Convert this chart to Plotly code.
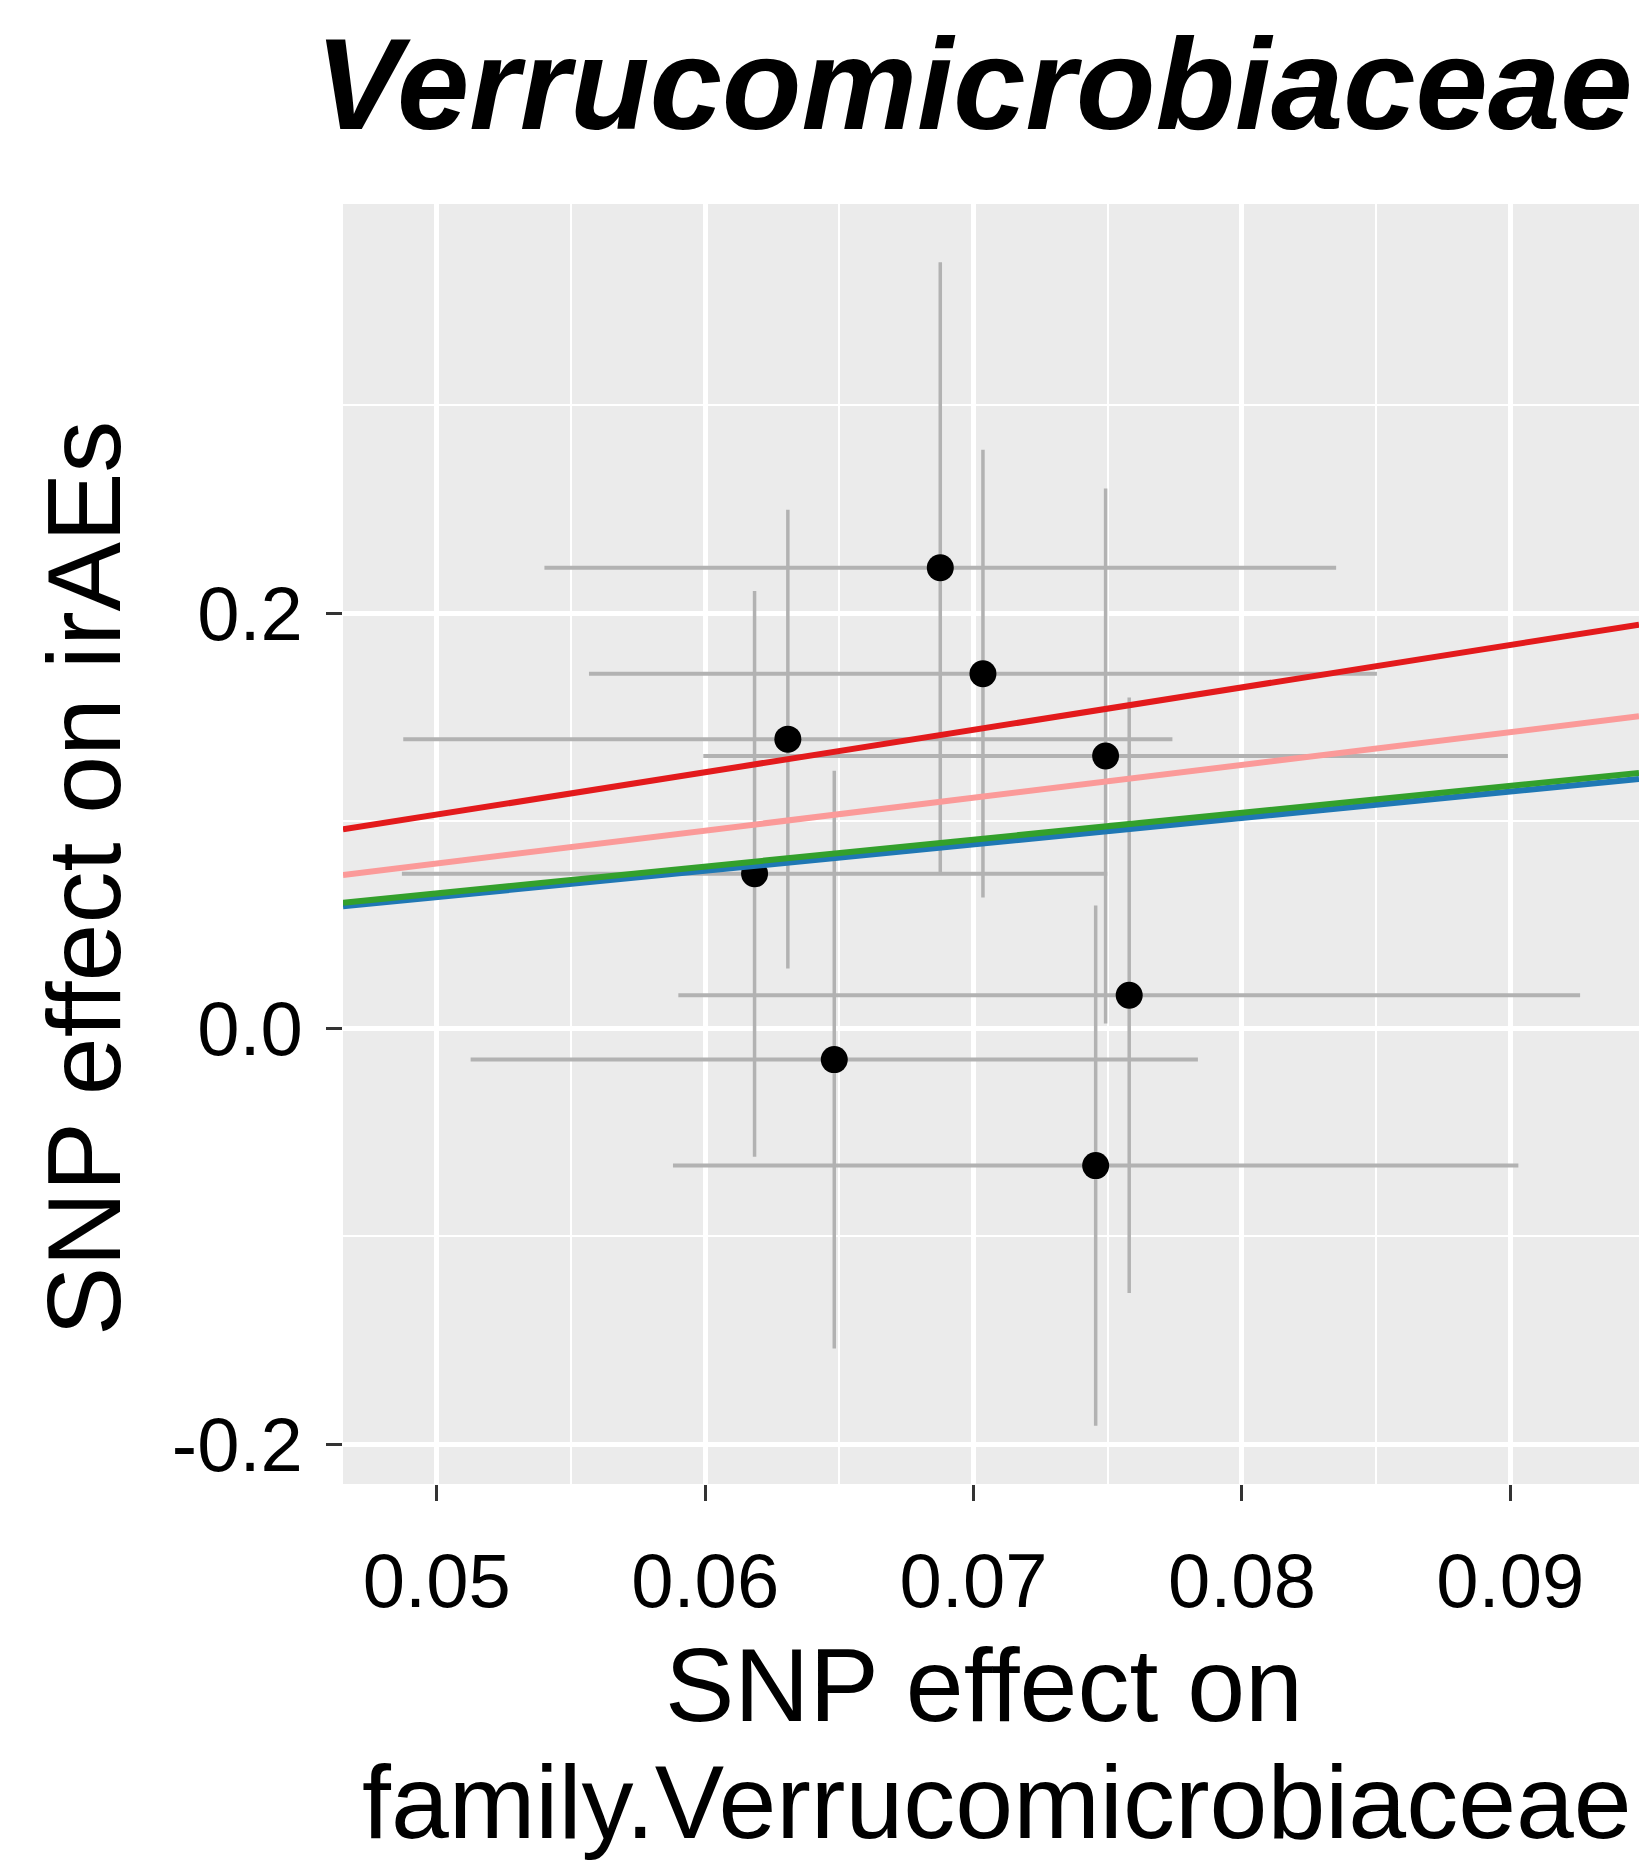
import plotly.graph_objects as go

# ---- data ----
beta_exposure = [0.06876, 0.07035, 0.06308, 0.07492, 0.06184, 0.07580, 0.06481, 0.07455]
beta_outcome = [0.2218, 0.1708, 0.1393, 0.1312, 0.0745, 0.0161, -0.0149, -0.0659]
se_exposure = [0.01475, 0.01468, 0.01433, 0.01499, 0.01314, 0.01680, 0.01355, 0.01575]
se_outcome = [0.1470, 0.1077, 0.1104, 0.1287, 0.1361, 0.1433, 0.1390, 0.1252]

methods = ["MR Egger", "Weighted median", "Weighted mode", "Inverse variance weighted"]
method_slopes = [1.27, 1.295, 1.58, 2.04]
method_intercepts = [-0.0002, 0.0003, 0.0005, 0.001]
method_colors = ["#1f78b4", "#33a02c", "#fb9a99", "#e31a1c"]

x_tickvals = [0.05, 0.06, 0.07, 0.08, 0.09]
x_ticktext = ["0.05", "0.06", "0.07", "0.08", "0.09"]
y_tickvals = [-0.2, 0.0, 0.2]
y_ticktext = ["-0.2", "0.0", "0.2"]

title_text = "Verrucomicrobiaceae"
x_title_lines = ["SNP effect on", "family.Verrucomicrobiaceae"]
y_title_text = "SNP effect on irAEs"

# ---- ggplot-like expanded ranges ----
xlo = min(b - s for b, s in zip(beta_exposure, se_exposure))
xhi = max(b + s for b, s in zip(beta_exposure, se_exposure))
ylo = min(b - s for b, s in zip(beta_outcome, se_outcome))
yhi = max(b + s for b, s in zip(beta_outcome, se_outcome))
xr = [xlo - 0.05 * (xhi - xlo), xhi + 0.05 * (xhi - xlo)]
yr = [ylo - 0.05 * (yhi - ylo), yhi + 0.05 * (yhi - ylo)]

FONT = "Liberation Sans, Arial, sans-serif"
W, H = 1651, 1866
L, R, T, B = 343, 12, 204, 382
PW, PH = W - L - R, H - T - B


def px_to_paper_x(px):
    return (px - L) / PW


def px_to_paper_y(py):
    return (H - B - py) / PH


fig = go.Figure()

fig.add_trace(go.Scatter(
    x=beta_exposure, y=beta_outcome, mode="markers",
    marker=dict(color="black", size=27, line=dict(width=0)),
    error_x=dict(type="data", array=se_exposure, visible=True, color="#b2b2b2", thickness=4, width=0),
    error_y=dict(type="data", array=se_outcome, visible=True, color="#b2b2b2", thickness=3.5, width=0),
    showlegend=False, hoverinfo="skip",
))

for name, s, a, c in zip(methods, method_slopes, method_intercepts, method_colors):
    fig.add_trace(go.Scatter(
        x=xr, y=[a + s * xr[0], a + s * xr[1]], mode="lines",
        line=dict(color=c, width=6), name=name, showlegend=False, hoverinfo="skip",
    ))

axis_common = dict(
    showline=False, zeroline=False, showgrid=True, gridcolor="white", gridwidth=4.5,
    ticks="outside", ticklen=16, tickwidth=3, tickcolor="#333333",
    tickfont=dict(family=FONT, size=76, color="black"),
)

fig.update_xaxes(
    range=xr, tickmode="array", tickvals=x_tickvals, ticktext=x_ticktext,
    ticklabelstandoff=15,
    minor=dict(tick0=0.055, dtick=0.01, showgrid=True, gridcolor="white", gridwidth=2.2, ticks=""),
    **axis_common,
)
fig.update_yaxes(
    range=yr, tickmode="array", tickvals=y_tickvals, ticktext=y_ticktext,
    ticklabelstandoff=8,
    minor=dict(tick0=0.1, dtick=0.2, showgrid=True, gridcolor="white", gridwidth=2.2, ticks=""),
    **axis_common,
)

annotations = [
    dict(text=title_text, x=px_to_paper_x(974), y=px_to_paper_y(84), xref="paper", yref="paper",
         xanchor="center", yanchor="middle", showarrow=False,
         font=dict(family=FONT, size=130, color="black", weight="bold", style="italic")),
    dict(text=x_title_lines[0], x=px_to_paper_x(984), y=px_to_paper_y(1685), xref="paper", yref="paper",
         xanchor="center", yanchor="middle", showarrow=False,
         font=dict(family=FONT, size=104, color="black")),
    dict(text=x_title_lines[1], x=px_to_paper_x(997), y=px_to_paper_y(1802), xref="paper", yref="paper",
         xanchor="center", yanchor="middle", showarrow=False,
         font=dict(family=FONT, size=104, color="black")),
    dict(text=y_title_text, x=px_to_paper_x(84), y=px_to_paper_y(879), xref="paper", yref="paper",
         xanchor="center", yanchor="middle", showarrow=False, textangle=-90,
         font=dict(family=FONT, size=104, color="black")),
]

fig.update_layout(
    width=W, height=H,
    margin=dict(l=L, r=R, t=T, b=B, pad=0),
    paper_bgcolor="white", plot_bgcolor="#ebebeb",
    showlegend=False,
    annotations=annotations,
)

fig.write_html("out.html")
